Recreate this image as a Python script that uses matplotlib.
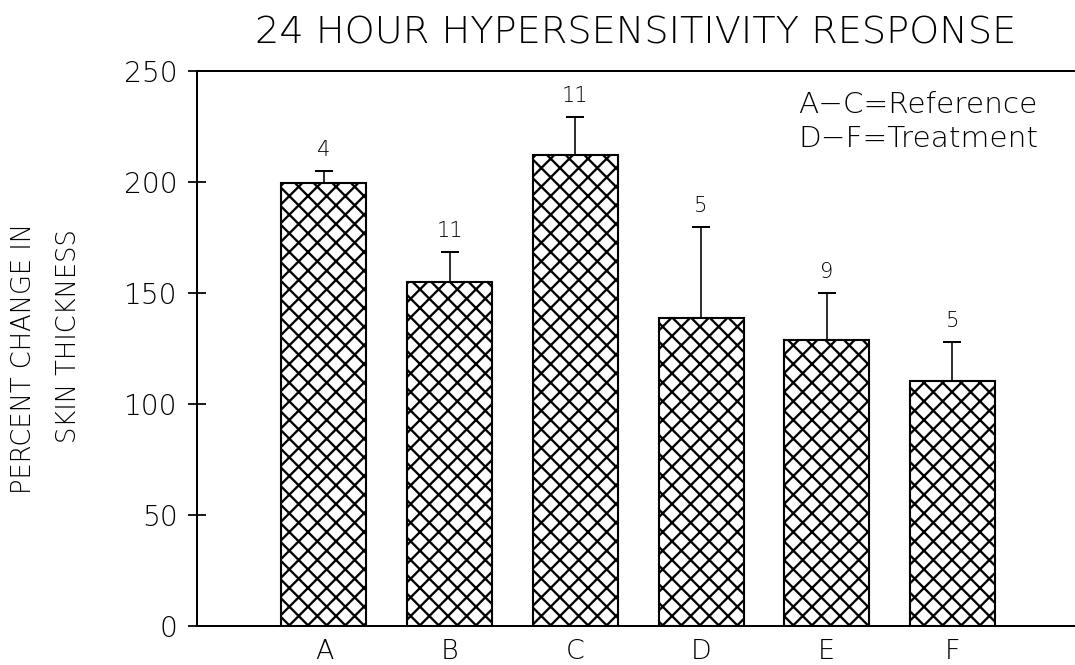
import numpy as np
import matplotlib
matplotlib.use("Agg")
import matplotlib.pyplot as plt

# Data
groups = ["A", "B", "C", "D", "E", "F"]
means = [199.4, 155.1, 212.2, 138.9, 128.8, 110.4]
errors = [5.7, 13.5, 17.2, 41.0, 21.1, 17.7]
counts = [4, 11, 11, 5, 9, 5]
yticks = [0, 50, 100, 150, 200, 250]

dpi = 112  # hatch spacing scales with dpi
W, H = 1075, 665


def pt(px):
    # pixel size -> points at this dpi
    return px * 72 / dpi


plt.rcParams['font.family'] = ['DejaVu Sans']
plt.rcParams['font.weight'] = 'light'
plt.rcParams['hatch.linewidth'] = pt(2.3)
plt.rcParams['hatch.color'] = 'black'

fig = plt.figure(figsize=(W / dpi, H / dpi), dpi=dpi)
ax = fig.add_axes([197 / W, 1 - 626 / H, 1 - 197 / W, (626 - 71) / H])

x = np.arange(len(groups))
ax.bar(x, means, width=0.676, color='white', edgecolor='black',
       linewidth=pt(2.1), hatch='xx', zorder=2)
ax.errorbar(x, means, yerr=[np.zeros(len(errors)), errors], fmt='none',
            ecolor='black', elinewidth=pt(1.6), capsize=pt(9),
            capthick=pt(2), zorder=3)

for xi, m, e, n in zip(x, means, errors, counts):
    ax.annotate(str(n), (xi, m + e), xytext=(0, pt(11)),
                textcoords='offset points', ha='center', va='bottom',
                fontsize=pt(21))

ax.set_xlim(-1.01, 5.975)
ax.set_ylim(0, 250)
ax.set_xticks(x)
ax.set_xticklabels(groups, fontsize=pt(27))
ax.set_yticks(yticks)
ax.tick_params(axis='y', direction='inout', length=pt(17.5), width=pt(1.75),
               labelsize=pt(28), pad=pt(10.5))
ax.tick_params(axis='x', length=0, pad=pt(12.8))

for s in ['left', 'bottom', 'top']:
    ax.spines[s].set_linewidth(pt(2))
ax.spines['right'].set_visible(False)

ax.text(0.6845, 0.924, "A\u2212C=Reference", transform=ax.transAxes,
        ha='left', va='baseline', fontsize=pt(29.5))
ax.text(0.6845, 0.8631, "D\u2212F=Treatment", transform=ax.transAxes,
        ha='left', va='baseline', fontsize=pt(29.5))

fig.text(636 / W, 1 - 43 / H, "24 HOUR HYPERSENSITIVITY RESPONSE",
         ha='center', va='baseline', fontsize=pt(38.3))
fig.text(24 / W, 1 - 358 / H, "PERCENT CHANGE IN", rotation=90,
         ha='center', va='center', fontsize=pt(25.7))
fig.text(68 / W, 1 - 336 / H, "SKIN THICKNESS", rotation=90,
         ha='center', va='center', fontsize=pt(25.7))

fig.savefig("out.png", dpi=dpi)
